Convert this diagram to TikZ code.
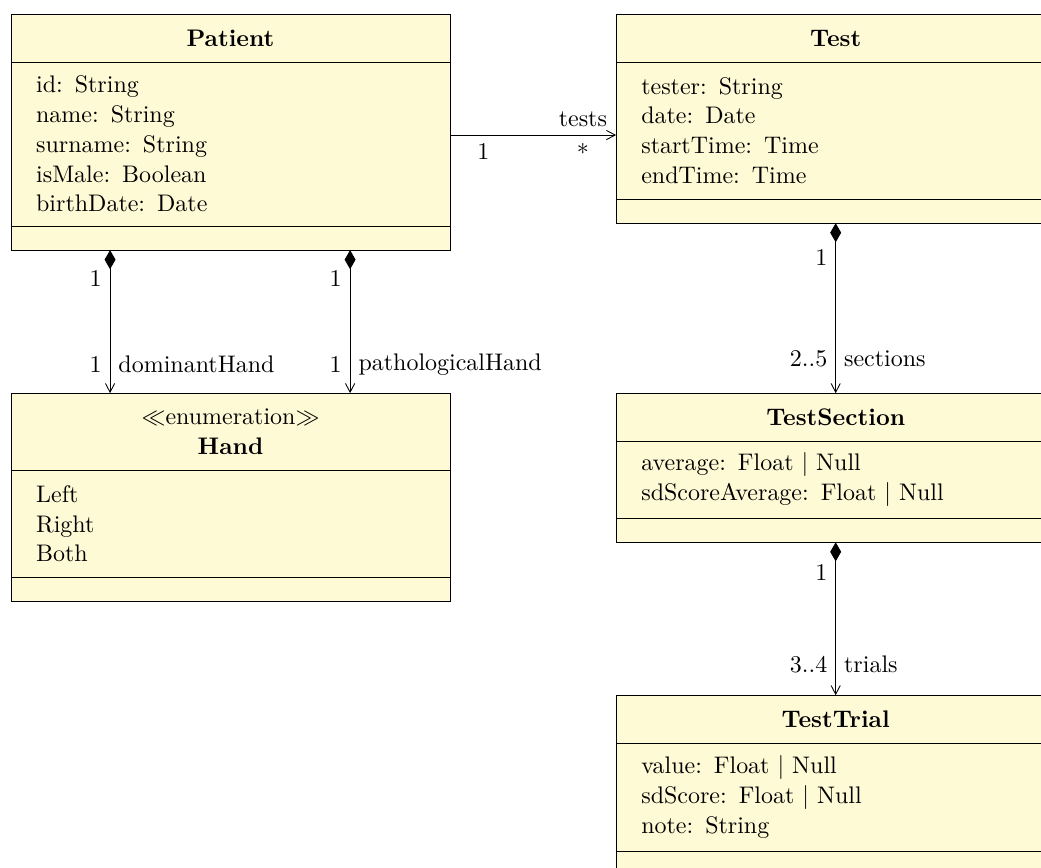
\documentclass[tikz,border=0pt,11pt]{standalone}
\usetikzlibrary{positioning,arrows.meta}

\definecolor{umlfill}{RGB}{255,250,214}
\def\classwidth{200.5pt}
\def\titleheight{21.9pt}
\def\opsheight{11pt}

\tikzset{
  classpart/.style={draw, fill=umlfill, minimum width=\classwidth,
    text width=177.5pt, inner xsep=11.5pt, inner ysep=0pt, outer sep=0pt},
  classhead/.style={classpart, align=center, minimum height=\titleheight},
  classbody/.style={classpart, align=left},
  classops/.style={classpart, minimum height=\opsheight},
  assoc/.style={-{Straight Barb[length=4pt,width=4.2pt]}},
  compo/.style={{Diamond[length=8.7pt,width=5pt]}-{Straight Barb[length=4pt,width=4.2pt]}},
}

\begin{document}
\begin{tikzpicture}
    \useasboundingbox (0,0) rectangle (475.3pt,-396.3pt);
    \clip (0,0) rectangle (475.3pt,-396.3pt);

    % left column
    \node[classhead, anchor=north west] (patient) at (5pt,-6.4pt) {\textbf{Patient}};
    \node[classbody, minimum height=74.9pt, below=0pt of patient] (patient-attr)
      {id: String\\name: String\\surname: String\\isMale: Boolean\\birthDate: Date};
    \node[classops, below=0pt of patient-attr] (patient-ops) {};

    \node[classhead, minimum height=35.2pt, anchor=north west] (hand) at (5pt,-179.5pt)
      {$\ll$enumeration$\gg$\\\textbf{Hand}};
    \node[classbody, minimum height=48.9pt, below=0pt of hand] (hand-attr)
      {Left\\Right\\Both};
    \node[classops, below=0pt of hand-attr] (hand-ops) {};

    % right column
    \node[classhead, anchor=north west] (test) at (281.3pt,-6.4pt) {\textbf{Test}};
    \node[classbody, minimum height=62.6pt, below=0pt of test] (test-attr)
      {tester: String\\date: Date\\startTime: Time\\endTime: Time};
    \node[classops, below=0pt of test-attr] (test-ops) {};

    \node[classhead, anchor=north west] (section) at (281.3pt,-179.5pt) {\textbf{TestSection}};
    \node[classbody, minimum height=35.2pt, below=0pt of section] (section-attr)
      {average: Float | Null\\sdScoreAverage: Float | Null};
    \node[classops, below=0pt of section-attr] (section-ops) {};

    \node[classhead, anchor=north west] (trial) at (281.3pt,-317.4pt) {\textbf{TestTrial}};
    \node[classbody, minimum height=49.3pt, below=0pt of trial] (trial-attr)
      {value: Float | Null\\sdScore: Float | Null\\note: String};
    \node[classops, below=0pt of trial-attr] (trial-ops) {};

    % relations
    \draw[assoc] ([yshift=4.1pt]patient-attr.east) -- ([yshift=4.1pt]patient-attr.east -| test-attr.west)
      node[pos=0.2, below] {1} node[pos=0.8, below] {*} node[pos=0.8, above] {tests};
    \draw[compo] ([xshift=-55pt]patient-ops.south) -- ([xshift=-55pt]hand.north)
      node[pos=0.2, left] {1} node[pos=0.8, left] {1} node[pos=0.8, right] {dominantHand};
    \draw[compo] ([xshift=54.6pt]patient-ops.south) -- ([xshift=54.6pt]hand.north)
      node[pos=0.2, left] {1} node[pos=0.8, left] {1} node[pos=0.8, right] {pathologicalHand};
    \draw[compo] (test-ops.south) -- (section.north)
      node[pos=0.2, left] {1} node[pos=0.8, left] {2..5} node[pos=0.8, right] {sections};
    \draw[compo] (section-ops.south) -- (trial.north)
      node[pos=0.2, left] {1} node[pos=0.8, left] {3..4} node[pos=0.8, right] {trials};
\end{tikzpicture}
\end{document}
